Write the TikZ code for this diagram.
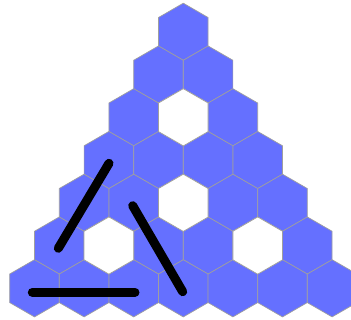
\documentclass[tikz,border=0pt]{standalone}
\usepackage{xcolor}
\usepackage{tikz}
\usetikzlibrary{calc}

\definecolor{hexblue}{RGB}{101,112,255}
\tikzset{
  hexcell/.style={fill=hexblue, draw=gray!75, line width=0.7pt},
  holecell/.style={fill=white, draw=gray!75, line width=0.7pt},
  stick/.style={line width=9pt, line cap=round}
}
\newcommand{\hexat}[3]{% style, center x, center y
  \draw[#1] (#2,#3) +(30:28.6) -- +(90:28.6) -- +(150:28.6) -- +(210:28.6) -- +(270:28.6) -- +(330:28.6) -- cycle;}

\begin{document}
\begin{tikzpicture}[x=1pt, y=-1pt]
    \useasboundingbox (0,0) rectangle (351,320);
    \clip (0,0) rectangle (351,320);
    % triangle of cells, row r has r+1 cells
    \foreach \r in {0,...,6} {
        \foreach \i in {0,...,\r} {
            \pgfmathsetmacro{\cx}{183.3+(\i-\r/2)*49.6}
            \pgfmathsetmacro{\cy}{31.8+42.75*\r}
            \hexat{hexcell}{\cx}{\cy}
        }
    }
    % empty cells
    \foreach \r/\i in {2/1, 4/2, 5/1, 5/4} {
        \pgfmathsetmacro{\cx}{183.3+(\i-\r/2)*49.6}
        \pgfmathsetmacro{\cy}{31.8+42.75*\r}
        \hexat{holecell}{\cx}{\cy}
    }
    % sticks
    \coordinate (leftTop) at (109,163.3);
    \coordinate (leftBot) at (58.3,248.3);
    \coordinate (midTop) at (132.7,205.7);
    \coordinate (midBot) at (182.7,291.7);
    \coordinate (baseL) at (32.3,292.3);
    \coordinate (baseR) at (135,292.3);
    \draw[stick] (leftTop) -- (leftBot);
    \draw[stick] (midTop) -- (midBot);
    \draw[stick] (baseL) -- (baseR);
\end{tikzpicture}
\end{document}
